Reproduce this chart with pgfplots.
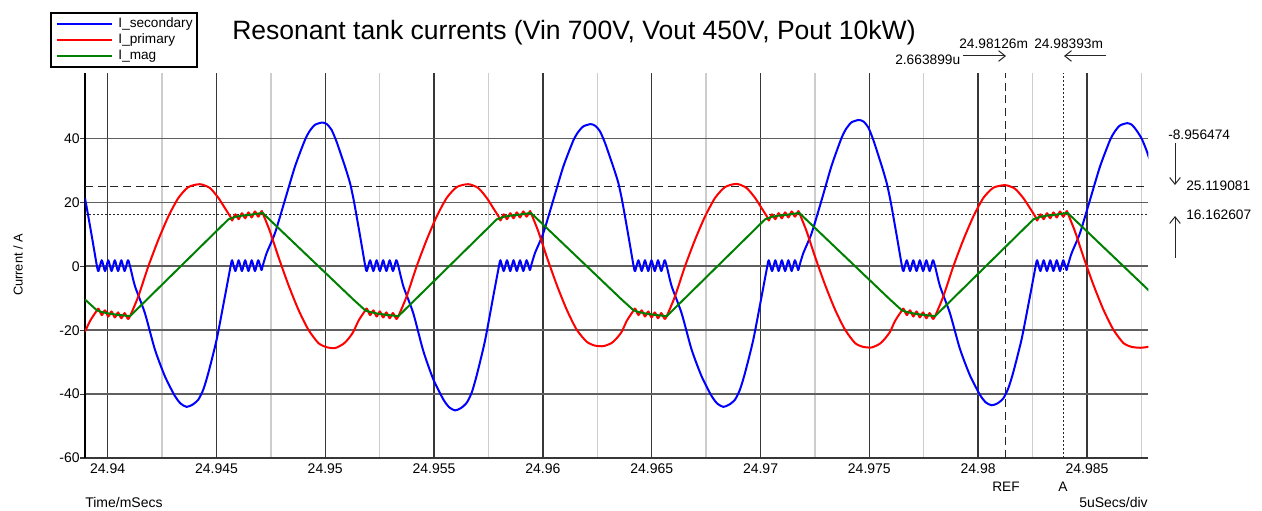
\documentclass[border=0pt]{standalone}
\usepackage{fontspec}
\setmainfont{Liberation Sans}
\usepackage{pgfplots}
\pgfplotsset{compat=1.18}
\usetikzlibrary{arrows.meta}

\definecolor{gridmajor}{RGB}{55,55,55}
\definecolor{gridminor}{RGB}{205,205,205}
\definecolor{gridh}{RGB}{95,95,95}
\definecolor{isec}{RGB}{0,0,255}
\definecolor{ipri}{RGB}{255,0,0}
\definecolor{imag}{RGB}{0,128,0}
\newcommand\fs[1]{\fontsize{#1}{#1}\selectfont}

% time axis: microseconds after 24.94 ms
\pgfplotstableread{
t v
-1.04 21.3
-0.95 18
-0.73 9.5
-0.49 0
-0.42 -1.5
-0.27 1.9
-0.12 -1.5
0.03 1.9
0.18 -1.5
0.33 1.9
0.48 -1.5
0.63 1.9
0.78 -1.5
0.93 1.9
1.03 0
1.26 -6.3
1.71 -14.6
2.17 -26
2.63 -34.4
3.09 -40.6
3.36 -43
3.63 -44
3.90 -43.3
4.17 -41.7
4.40 -38.5
4.63 -33.3
5.01 -22.9
5.39 -9.4
5.65 0
5.72 1.9
5.87 -1.5
6.02 1.9
6.17 -1.5
6.32 1.9
6.47 -1.5
6.62 1.9
6.77 -1.5
6.92 1.9
7.07 -1.2
7.12 0
7.31 4.2
7.69 10.4
8.15 20.8
8.61 31.25
9.07 39.6
9.30 42.5
9.53 44.3
9.86 45
10.07 44.5
10.29 42.7
10.52 39
10.75 34.4
10.95 30.3
11.14 26
11.29 21.3
11.38 18
11.60 9.5
11.84 0
11.91 -1.5
12.06 1.9
12.21 -1.5
12.36 1.9
12.51 -1.5
12.66 1.9
12.81 -1.5
12.96 1.9
13.11 -1.5
13.26 1.9
13.36 0
13.59 -6.3
14.04 -14.6
14.50 -26.4
14.96 -35.3
15.42 -41.6
15.69 -44.1
15.96 -45.1
16.23 -44.4
16.50 -42.7
16.73 -39.5
16.96 -34.1
17.34 -23.3
17.72 -9.4
17.98 0
18.05 1.9
18.20 -1.5
18.35 1.9
18.50 -1.5
18.65 1.9
18.80 -1.5
18.95 1.9
19.10 -1.5
19.25 1.9
19.40 -1.2
19.45 0
19.64 4.2
20.02 10.4
20.48 20.8
20.94 31.25
21.40 39.4
21.63 42.1
21.86 43.8
22.19 44.5
22.40 44.0
22.62 42.3
22.85 38.7
23.08 34.2
23.28 30.2
23.47 26
23.62 21.3
23.71 18
23.93 9.5
24.17 0
24.24 -1.5
24.39 1.9
24.54 -1.5
24.69 1.9
24.84 -1.5
24.99 1.9
25.14 -1.5
25.29 1.9
25.44 -1.5
25.59 1.9
25.69 0
25.92 -6.3
26.37 -14.6
26.83 -26
27.29 -34.4
27.75 -40.6
28.02 -43
28.29 -44
28.56 -43.3
28.83 -41.7
29.06 -38.5
29.29 -33.3
29.67 -22.9
30.05 -9.4
30.31 0
30.38 1.9
30.53 -1.5
30.68 1.9
30.83 -1.5
30.98 1.9
31.13 -1.5
31.28 1.9
31.43 -1.5
31.58 1.9
31.73 -1.2
31.78 0
31.97 4.2
32.35 10.4
32.81 20.8
33.27 31.6
33.73 40.3
33.96 43.3
34.19 45.1
34.52 45.8
34.73 45.3
34.95 43.5
35.18 39.6
35.41 34.8
35.61 30.5
35.80 26
35.95 21.3
36.04 18
36.26 9.5
36.50 0
36.57 -1.5
36.72 1.9
36.87 -1.5
37.02 1.9
37.17 -1.5
37.32 1.9
37.47 -1.5
37.62 1.9
37.77 -1.5
37.92 1.9
38.02 0
38.25 -6.3
38.70 -14.6
39.16 -25.8
39.62 -34.1
40.08 -40.2
40.35 -42.6
40.62 -43.5
40.89 -42.9
41.16 -41.3
41.39 -38.1
41.62 -33
42.00 -22.7
42.38 -9.4
42.64 0
42.71 1.9
42.86 -1.5
43.01 1.9
43.16 -1.5
43.31 1.9
43.46 -1.5
43.61 1.9
43.76 -1.5
43.91 1.9
44.06 -1.2
44.11 0
44.30 4.2
44.68 10.4
45.14 20.8
45.60 31.25
46.06 39.5
46.29 42.3
46.52 44.1
46.85 44.8
47.06 44.3
47.28 42.5
47.51 40
47.74 36.2
47.94 32
48.13 27
}\isecondary

\pgfplotstableread{
t v
-1.04 -20.5
-0.80 -17
-0.49 -13.8
-0.42 -13.23
-0.27 -15.27
-0.12 -13.78
0.03 -15.72
0.18 -14.13
0.33 -16.02
0.48 -14.43
0.63 -16.27
0.78 -14.63
0.93 -16.47
1.03 -15.6
1.41 -9.4
1.87 0
2.33 8.3
2.79 15.6
3.25 21.4
3.71 24.8
4.24 25.7
4.70 24.5
5.09 21.4
5.39 18.2
5.65 15.4
5.72 14.33
5.87 16.27
6.02 14.73
6.17 16.62
6.32 15.03
6.47 16.87
6.62 15.28
6.77 17.17
6.92 15.53
7.07 17.2
7.12 16.7
7.46 10.9
7.84 3.1
8.30 -5.7
8.76 -13.5
9.22 -19.8
9.68 -24
10.05 -25.3
10.45 -25.6
10.83 -24.3
11.05 -22.8
11.29 -20.5
11.53 -17
11.84 -13.8
11.91 -13.23
12.06 -15.27
12.21 -13.78
12.36 -15.72
12.51 -14.13
12.66 -16.02
12.81 -14.43
12.96 -16.27
13.11 -14.63
13.26 -16.47
13.36 -15.6
13.74 -9.4
14.20 0
14.66 8.3
15.12 15.6
15.58 21.4
16.04 24.8
16.57 25.7
17.03 24.5
17.42 21.4
17.72 18.2
17.98 15.4
18.05 14.33
18.20 16.27
18.35 14.73
18.50 16.62
18.65 15.03
18.80 16.87
18.95 15.28
19.10 17.17
19.25 15.53
19.40 17.2
19.45 16.7
19.79 10.9
20.17 3.1
20.63 -5.7
21.09 -13.5
21.55 -19.8
22.01 -23.6
22.38 -24.8
22.78 -25.0
23.16 -24.0
23.38 -22.6
23.62 -20.5
23.86 -17
24.17 -13.8
24.24 -13.23
24.39 -15.27
24.54 -13.78
24.69 -15.72
24.84 -14.13
24.99 -16.02
25.14 -14.43
25.29 -16.27
25.44 -14.63
25.59 -16.47
25.69 -15.6
26.07 -9.4
26.53 0
26.99 8.3
27.45 15.6
27.91 21.4
28.37 24.8
28.90 25.8
29.36 24.5
29.75 21.4
30.05 18.2
30.31 15.4
30.38 14.33
30.53 16.27
30.68 14.73
30.83 16.62
30.98 15.03
31.13 16.87
31.28 15.28
31.43 17.17
31.58 15.53
31.73 17.2
31.78 16.7
32.12 10.9
32.50 3.1
32.96 -5.7
33.42 -13.5
33.88 -19.8
34.34 -24
34.71 -25.2
35.11 -25.4
35.49 -24.2
35.71 -22.7
35.95 -20.5
36.19 -17
36.50 -13.8
36.57 -13.23
36.72 -15.27
36.87 -13.78
37.02 -15.72
37.17 -14.13
37.32 -16.02
37.47 -14.43
37.62 -16.27
37.77 -14.63
37.92 -16.47
38.02 -15.6
38.40 -9.4
38.86 0
39.32 8.3
39.78 15.6
40.24 21.4
40.70 24.6
41.24 25.4
41.69 24.3
42.08 21.3
42.38 18.2
42.64 15.4
42.71 14.33
42.86 16.27
43.01 14.73
43.16 16.62
43.31 15.03
43.46 16.87
43.61 15.28
43.76 17.17
43.91 15.53
44.06 17.2
44.11 16.7
44.45 10.9
44.83 3.1
45.29 -5.7
45.75 -13.5
46.21 -19.8
46.67 -24
47.04 -25.2
47.44 -25.5
47.82 -25.2
48.04 -24.5
}\iprimary

\pgfplotstableread{
t v
-1.04 -10.4
-0.49 -13.8
-0.27 -14.3
0.03 -14.75
0.48 -15.2
1.03 -15.6
5.55 14.7
5.87 15.5
6.17 15.85
6.47 16.05
6.77 16.35
7.12 16.7
11.29 -10.4
11.84 -13.8
12.06 -14.3
12.36 -14.75
12.81 -15.2
13.36 -15.6
17.88 14.7
18.20 15.5
18.50 15.85
18.80 16.05
19.10 16.35
19.45 16.7
23.62 -10.4
24.17 -13.8
24.39 -14.3
24.69 -14.75
25.14 -15.2
25.69 -15.6
30.21 14.7
30.53 15.5
30.83 15.85
31.13 16.05
31.43 16.35
31.78 16.7
35.95 -10.4
36.50 -13.8
36.72 -14.3
37.02 -14.75
37.47 -15.2
38.02 -15.6
42.54 14.7
42.86 15.5
43.16 15.85
43.46 16.05
43.76 16.35
44.11 16.7
48.28 -10.4
}\imag

\begin{document}
\begin{tikzpicture}
\begin{axis}[
  at={(63.75pt,39pt)}, anchor=south west,
  scale only axis, width=797.5pt, height=288.75pt,
  xmin=-1.04, xmax=47.82, ymin=-60, ymax=60.5,
  axis x line*=bottom, axis y line*=left,
  x axis line style={-, draw=gridmajor, line width=1.2pt},
  y axis line style={-, draw=black, line width=1.6pt},
  xtick={0,5,...,45},
  xticklabels={24.94,24.945,24.95,24.955,24.96,24.965,24.97,24.975,24.98,24.985},
  minor xtick={2.5,7.5,...,47.5},
  ytick={-60,-40,...,40},
  yticklabels={-60,-40,-20,0,20,40},
  xmajorgrids, xminorgrids, ymajorgrids,
  major x grid style={draw=gridmajor, line width=1.1pt},
  minor x grid style={draw=gridminor, line width=1.1pt},
  major y grid style={draw=gridh, line width=1.3pt},
  tick align=outside,
  xtick style={draw=none},
  minor tick length=0pt,
  ytick style={draw=gridmajor, line width=0.9pt},
  major tick length=3.75pt,
  tick label style={font=\fs{10.5}, inner sep=0pt},
  xticklabel style={anchor=base, yshift=-7.7pt},
  yticklabel style={anchor=east},
  clip=true,
  legend style={
    at={(-0.0329,1.1584)}, anchor=north west,
    draw=black, line width=1.4pt, fill=white,
    font=\fs{10.2},
    inner xsep=3.5pt, inner ysep=2pt,
    row sep=0pt, column sep=4.5pt,
    nodes={inner sep=0pt, text height=8.8pt, text depth=3.4pt},
  },
  legend cell align=left,
  legend image code/.code={\draw[#1, line width=1.4pt] (0pt,0pt) -- (41.25pt,0pt);},
]
% cursor lines
\addplot[forget plot, draw=black!85, line width=0.8pt, dash pattern=on 6pt off 3.5pt] coordinates {(41.26,-60) (41.26,60.5)};
\addplot[forget plot, draw=black!85, line width=0.8pt, dash pattern=on 1.5pt off 1.5pt] coordinates {(43.93,-60) (43.93,60.5)};
\addplot[forget plot, draw=black!85, line width=0.8pt, dash pattern=on 6pt off 3.5pt] coordinates {(-1.04,25.119081) (47.82,25.119081)};
\addplot[forget plot, draw=black!85, line width=0.8pt, dash pattern=on 1.5pt off 1.5pt] coordinates {(-1.04,16.162607) (47.82,16.162607)};
% waveforms
\addplot[isec, line width=1.5pt, line join=round, smooth, tension=0.4] table[x=t, y=v] {\isecondary};
\addplot[ipri, line width=1.5pt, line join=round, smooth, tension=0.4] table[x=t, y=v] {\iprimary};
\addplot[imag, line width=1.5pt, line join=round] table[x=t, y=v] {\imag};
\legend{I\_secondary, I\_primary, I\_mag}
\end{axis}

\begin{scope}[x=0.75pt, y=-0.75pt, shift={(0pt,382.5pt)}]
\node[anchor=base west, inner sep=0pt, font=\fs{19.9}] at (232,39.5) {Resonant tank currents (Vin 700V, Vout 450V, Pout 10kW)};
\node[anchor=base west, inner sep=0pt, font=\fs{10.3}] at (959,48.3) {24.98126m};
\node[anchor=base west, inner sep=0pt, font=\fs{10.3}] at (1034,48.3) {24.98393m};
\node[anchor=base west, inner sep=0pt, font=\fs{10.3}] at (895,64.3) {2.663899u};
\draw[black!85, line width=0.75pt, -{Straight Barb[length=5pt,width=8pt]}] (963,56) -- (1006,56);
\draw[black!85, line width=0.75pt, -{Straight Barb[length=5pt,width=8pt]}] (1106,56) -- (1064,56);
\node[anchor=base west, inner sep=0pt, font=\fs{10.3}] at (1168,140) {-8.956474};
\draw[black!85, line width=0.75pt, -{Straight Barb[length=5pt,width=8pt]}] (1175,143) -- (1175,185);
\node[anchor=base west, inner sep=0pt, font=\fs{10.3}] at (1186,191) {25.119081};
\node[anchor=base west, inner sep=0pt, font=\fs{10.3}] at (1186,220) {16.162607};
\draw[black!85, line width=0.75pt, -{Straight Barb[length=5pt,width=8pt]}] (1175,258) -- (1175,216);
\node[anchor=base, inner sep=0pt, font=\fs{10.3}] at (1006,491.7) {REF};
\node[anchor=base, inner sep=0pt, font=\fs{10.3}] at (1063,491.7) {A};
\node[anchor=base west, inner sep=0pt, font=\fs{10.5}] at (85,507.5) {Time/mSecs};
\node[anchor=base east, inner sep=0pt, font=\fs{10.5}] at (1148,507.5) {5uSecs/div};
\node[rotate=90, inner sep=0pt, font=\fs{9.6}] at (18,265) {Current / A};
\end{scope}
\pgfresetboundingbox
\path[use as bounding box] (0,0) rectangle (946.5pt,382.5pt);
\end{tikzpicture}
\end{document}
